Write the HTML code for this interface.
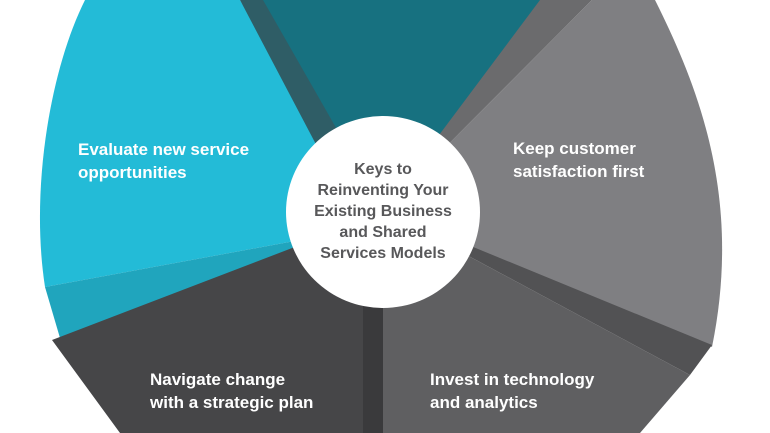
<!DOCTYPE html>
<html><head><meta charset="utf-8"><style>
html,body{margin:0;padding:0;background:#fff;}
svg{display:block;}
text{font-family:"Liberation Sans",sans-serif;font-weight:bold;}
</style></head><body>
<svg width="770" height="433" viewBox="0 0 770 433" xmlns="http://www.w3.org/2000/svg">
<rect width="770" height="433" fill="#fff"/>
<polygon points="383,210 538,0 592,0" fill="#6b6b6d"/>
<polygon points="383,210 262,0 540,0" fill="#177180"/>
<path d="M383,210 L592,0 L655,0 C700,90 742,200 712,347 Z" fill="#7f7f82"/>
<polygon points="383,210 712,345 690,375" fill="#525254"/>
<polygon points="383,210 690,375 640,433 383,433" fill="#5f5f61"/>
<path d="M240,0 L85,0 C50,70 30,190 45,287 L300,240 L340,170 Z" fill="#23bbd7"/>
<polygon points="240,0 263,0 383,210 340,190" fill="#2f5d66"/>
<polygon points="45,287 300,240 300,262 60,338" fill="#20a5bd"/>
<polygon points="52,340 300,245 383,210 383,433 120,433" fill="#464648"/>
<polygon points="363,290 383,290 383,433 363,433" fill="#3a3a3c"/>
<ellipse cx="383" cy="212" rx="97" ry="96" fill="#fff"/>
<g fill="#fff" font-size="17">
<text x="78" y="155">Evaluate new service</text>
<text x="78" y="178">opportunities</text>
<text x="513" y="154">Keep customer</text>
<text x="513" y="177">satisfaction first</text>
<text x="150" y="385">Navigate change</text>
<text x="150" y="408">with a strategic plan</text>
<text x="430" y="385">Invest in technology</text>
<text x="430" y="408">and analytics</text>
</g>
<g fill="#58585a" font-size="16" text-anchor="middle">
<text x="383" y="174">Keys to</text>
<text x="383" y="195">Reinventing Your</text>
<text x="383" y="216">Existing Business</text>
<text x="383" y="237">and Shared</text>
<text x="383" y="258">Services Models</text>
</g>
</svg>
</body></html>
